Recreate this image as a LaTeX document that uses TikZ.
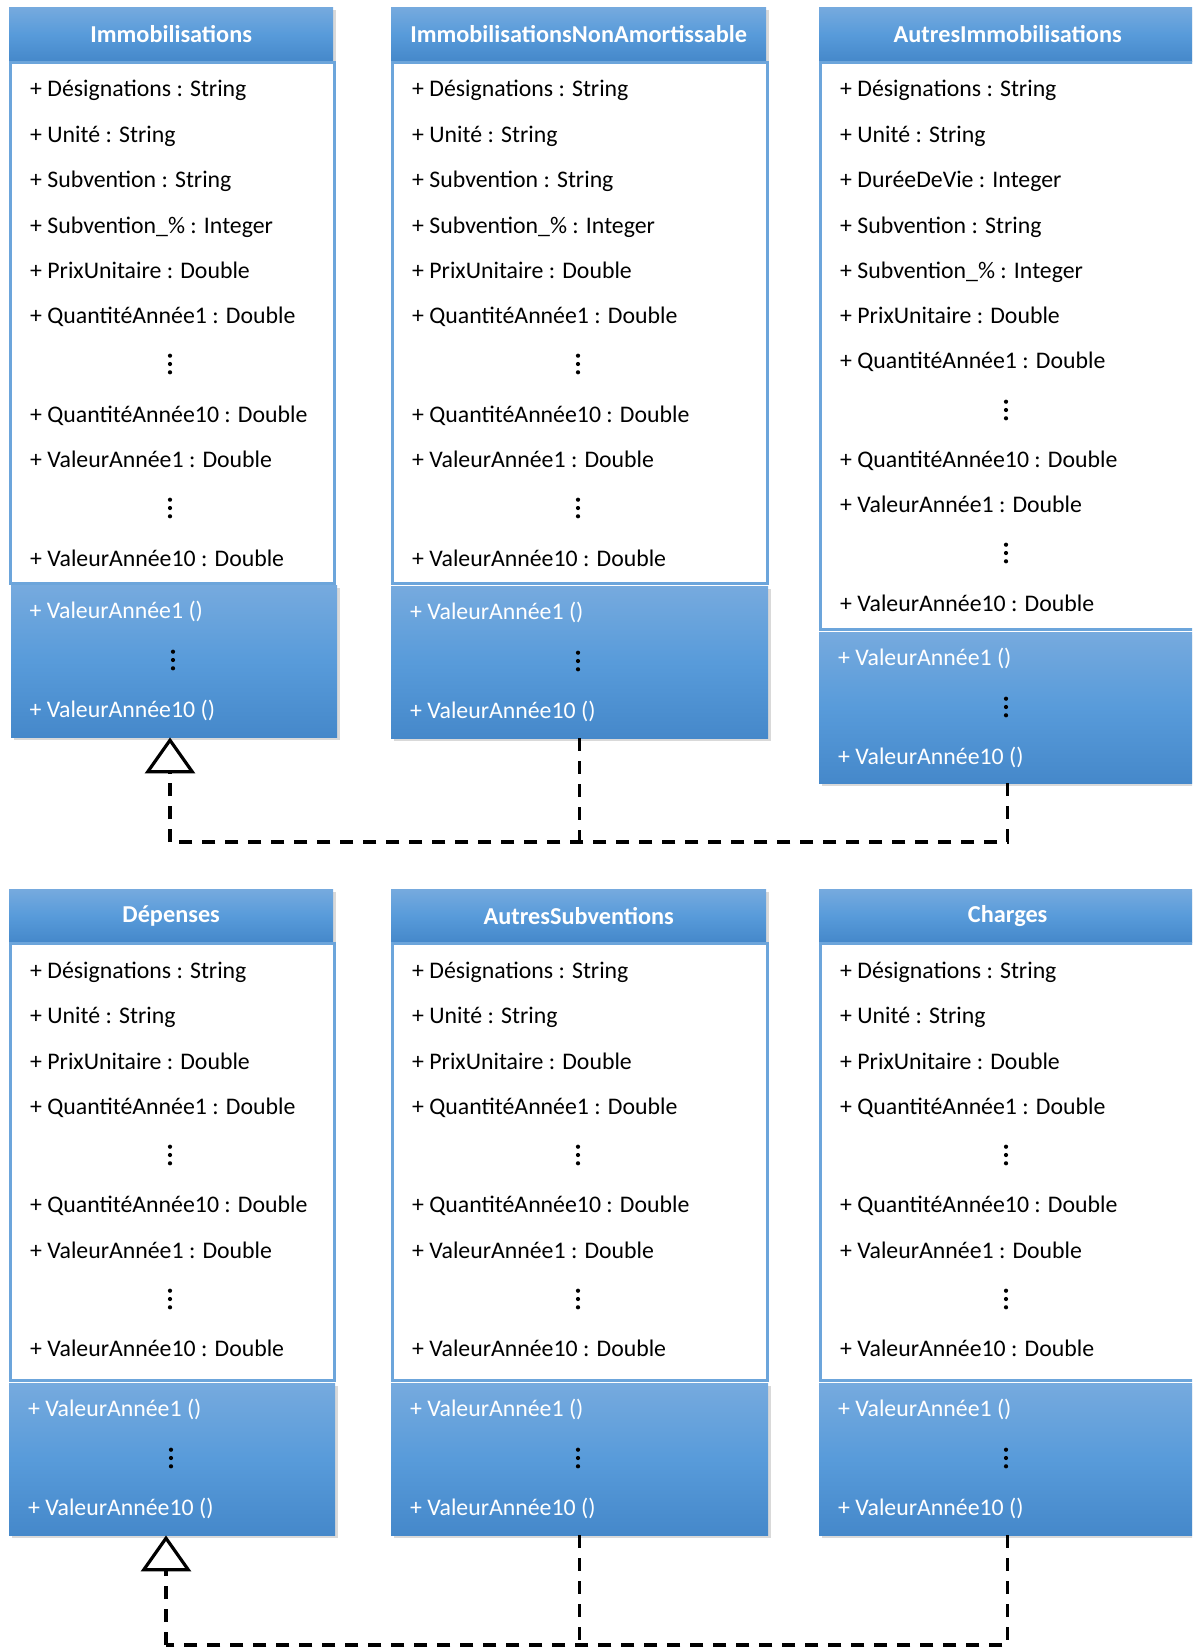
\documentclass[tikz,border=0pt]{standalone}
\usepackage{fontspec}
\setmainfont{Carlito}
\usetikzlibrary{shadows,arrows.meta}
\definecolor{hdrT}{RGB}{118,170,222}
\definecolor{hdrM}{RGB}{88,155,218}
\definecolor{hdrB}{RGB}{69,136,202}
\definecolor{bord}{RGB}{108,165,219}
\tikzset{
  hdr/.style={rectangle, anchor=north west, inner sep=0pt, top color=hdrT, bottom color=hdrB, middle color=hdrM,
    drop shadow={opacity=0.3, shadow xshift=3pt, shadow yshift=-3pt}, text=white, font=\fontsize{24.3pt}{28pt}\selectfont\bfseries},
  attrbox/.style={rectangle, anchor=north west, inner sep=0pt, draw=bord, line width=2.5pt, fill=white},
  methbox/.style={rectangle, anchor=north west, inner sep=0pt, top color=hdrT, bottom color=hdrB, middle color=hdrM,
    drop shadow={opacity=0.3, shadow xshift=3pt, shadow yshift=-3pt}},
  txt/.style={anchor=base west, inner sep=0pt, text=black},
  mtxt/.style={anchor=base west, inner sep=0pt, text=white},
  conn/.style={line width=3.2pt, dash pattern=on 13pt off 10pt},
  inh/.style={conn, -{Triangle[open, length=36pt, width=50pt, line join=miter]}}
}
\newcommand{\vdotsat}[2]{\fill (#1,#2-8.3) circle (2.1) (#1,#2) circle (2.1) (#1,#2+8.3) circle (2.1);}
\def\topAB{87/{+ Désignations : String},133/{+ Unité : String},178.5/{+ Subvention : String},224/{+ Subvention\_\% : Integer},269/{+ PrixUnitaire : Double},314/{+ QuantitéAnnée1 : Double},413/{+ QuantitéAnnée10 : Double},458/{+ ValeurAnnée1 : Double},557/{+ ValeurAnnée10 : Double}}
\def\topC{87/{+ Désignations : String},133/{+ Unité : String},178.5/{+ DuréeDeVie : Integer},224/{+ Subvention : String},269/{+ Subvention\_\% : Integer},314/{+ PrixUnitaire : Double},359/{+ QuantitéAnnée1 : Double},458/{+ QuantitéAnnée10 : Double},503/{+ ValeurAnnée1 : Double},602/{+ ValeurAnnée10 : Double}}
\def\bottomAll{969/{+ Désignations : String},1014.5/{+ Unité : String},1060/{+ PrixUnitaire : Double},1105/{+ QuantitéAnnée1 : Double},1203.5/{+ QuantitéAnnée10 : Double},1249/{+ ValeurAnnée1 : Double},1347/{+ ValeurAnnée10 : Double}}
\begin{document}
\begin{tikzpicture}[x=1pt,y=-1pt]
\fontsize{23.8pt}{28pt}\selectfont
\useasboundingbox (0,0) rectangle (1192,1647);
\clip (0,0) rectangle (1192,1647);

% ---------- top row ----------
% Immobilisations
\node[hdr, minimum width=324pt, minimum height=54pt] (hA) at (9,7) {Immobilisations};
\node[attrbox, minimum width=324pt, minimum height=521pt] (aA) at (9,61) {};
\foreach \yy/\lbl [count=\i] in \topAB {\node[txt] (tA\i) at (30,\yy+9) {\lbl};}
\vdotsat{170}{364}
\vdotsat{170}{508}
\node[methbox, minimum width=326pt, minimum height=152pt] (mA) at (11,585) {};
\node[mtxt] (mA1) at (29.5,610+8.5) {+ ValeurAnnée1 ()};
\vdotsat{173}{660}
\node[mtxt] (mA2) at (29.5,709+8.5) {+ ValeurAnnée10 ()};

% ImmobilisationsNonAmortissable
\node[hdr, minimum width=375pt, minimum height=54pt] (hB) at (391,7) {ImmobilisationsNonAmortissable};
\node[attrbox, minimum width=375pt, minimum height=521pt] (aB) at (391,61) {};
\foreach \yy/\lbl [count=\i] in \topAB {\node[txt] (tB\i) at (412,\yy+9) {\lbl};}
\vdotsat{578}{364}
\vdotsat{578}{508}
\node[methbox, minimum width=377pt, minimum height=152pt] (mB) at (391,586) {};
\node[mtxt] (mB1) at (410,611+8.5) {+ ValeurAnnée1 ()};
\vdotsat{578}{661}
\node[mtxt] (mB2) at (410,710+8.5) {+ ValeurAnnée10 ()};

% AutresImmobilisations
\node[hdr, minimum width=377pt, minimum height=54pt] (hC) at (819,7) {AutresImmobilisations};
\node[attrbox, minimum width=377pt, minimum height=567pt] (aC) at (819,61) {};
\foreach \yy/\lbl [count=\i] in \topC {\node[txt] (tC\i) at (840,\yy+9) {\lbl};}
\vdotsat{1006}{410}
\vdotsat{1006}{553}
\node[methbox, minimum width=377pt, minimum height=151pt] (mC) at (819,632) {};
\node[mtxt] (mC1) at (838,657+8.5) {+ ValeurAnnée1 ()};
\vdotsat{1006}{707}
\node[mtxt] (mC2) at (838,756+8.5) {+ ValeurAnnée10 ()};

% top connectors
\coordinate (jTop) at (170,842);
\draw[conn] (mB.south) -- (mB.south |- jTop);
\draw[conn] (mC.south) |- (jTop);
\draw[inh] (jTop) -- (jTop |- mA.south);

% ---------- bottom row ----------
% Dépenses
\node[hdr, minimum width=324pt, minimum height=53pt] (hD) at (9,889) {Dépenses};
\node[attrbox, minimum width=324pt, minimum height=437pt] (aD) at (9,942) {};
\foreach \yy/\lbl [count=\i] in \bottomAll {\node[txt] (tD\i) at (30,\yy+9) {\lbl};}
\vdotsat{170}{1155}
\vdotsat{170}{1299}
\node[methbox, minimum width=326pt, minimum height=152pt] (mD) at (9,1383) {};
\node[mtxt] (mD1) at (28,1408+8.5) {+ ValeurAnnée1 ()};
\vdotsat{171}{1458}
\node[mtxt] (mD2) at (28,1507+8.5) {+ ValeurAnnée10 ()};

% AutresSubventions
\node[hdr, minimum width=375pt, minimum height=53pt] (hE) at (391,889) {AutresSubventions};
\node[attrbox, minimum width=375pt, minimum height=437pt] (aE) at (391,942) {};
\foreach \yy/\lbl [count=\i] in \bottomAll {\node[txt] (tE\i) at (412,\yy+9) {\lbl};}
\vdotsat{578}{1155}
\vdotsat{578}{1299}
\node[methbox, minimum width=377pt, minimum height=152pt] (mE) at (391,1383) {};
\node[mtxt] (mE1) at (410,1408+8.5) {+ ValeurAnnée1 ()};
\vdotsat{578}{1458}
\node[mtxt] (mE2) at (410,1507+8.5) {+ ValeurAnnée10 ()};

% Charges
\node[hdr, minimum width=377pt, minimum height=53pt] (hF) at (819,889) {Charges};
\node[attrbox, minimum width=377pt, minimum height=437pt] (aF) at (819,942) {};
\foreach \yy/\lbl [count=\i] in \bottomAll {\node[txt] (tF\i) at (840,\yy+9) {\lbl};}
\vdotsat{1006}{1155}
\vdotsat{1006}{1299}
\node[methbox, minimum width=377pt, minimum height=152pt] (mF) at (819,1383) {};
\node[mtxt] (mF1) at (838,1408+8.5) {+ ValeurAnnée1 ()};
\vdotsat{1006}{1458}
\node[mtxt] (mF2) at (838,1507+8.5) {+ ValeurAnnée10 ()};

% bottom connectors
\coordinate (jBot) at (166,1645);
\draw[conn] (mE.south) -- (mE.south |- jBot);
\draw[conn] (mF.south) |- (jBot);
\draw[inh] (jBot) -- (jBot |- mD.south);
\end{tikzpicture}
\end{document}
